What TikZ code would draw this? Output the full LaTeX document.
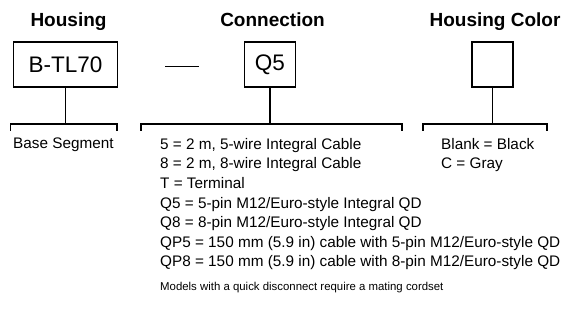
\documentclass[tikz,border=0pt]{standalone}
\usepackage{fontspec}
\setmainfont{Liberation Sans}
\usetikzlibrary{positioning,calc}
\tikzset{%
	partbox/.style  = {draw, rectangle, line width=1.6pt, minimum height=45.5pt, inner sep=0pt, font=\fontsize{22.5}{27}\selectfont},
	heading/.style  = {font=\fontsize{19}{22}\selectfont\bfseries, text height=13.6pt, text depth=0pt, inner sep=0pt},
	legend/.style   = {align=left, anchor=north west, inner sep=0pt, font=\fontsize{15.3}{19.6}\selectfont},
	note/.style     = {anchor=base west, inner sep=0pt, font=\fontsize{11.4}{13}\selectfont},
	link/.style     = {line width=1.6pt},
	waypoint/.style = {coordinate},
}

\begin{document}
\begin{tikzpicture}[x=1pt,y=1pt,node distance=45pt]
	\useasboundingbox (0,0) rectangle (563,-320);
	% code boxes
	\node[partbox, minimum width=104pt] (housing) at (65.5,-64.5) {B-TL70};
	\node[partbox, minimum width=51pt] (conn) at (270,-64.5) {Q5};
	\node[partbox, minimum width=41pt] (color) at (492.5,-64.5) {};
	\node[heading, above of=housing, xshift=3pt] (Thousing) {Housing};
	\node[heading, above of=conn, xshift=2.5pt] (Tconn) {Connection};
	\node[heading, above of=color, xshift=2.5pt] (Tcolor) {Housing Color};
	\coordinate (dashL) at (165,-66.7);
	\coordinate (dashR) at (199,-66.7);
	\draw[link] (dashL) -- (dashR);

	\node[waypoint, below of=housing, node distance=59.5pt] (hBr) {};
	\node[waypoint, left of=hBr, node distance=55pt] (hL) {};
	\node[waypoint, right of=hBr, node distance=51.5pt] (hR) {};
	\node[waypoint, below of=conn, node distance=59.5pt] (cBr) {};
	\node[waypoint, left of=cBr, node distance=129pt] (cL) {};
	\node[waypoint, right of=cBr, node distance=132pt] (cR) {};
	\node[waypoint, below of=color, node distance=59.5pt] (kBr) {};
	\node[waypoint, left of=kBr, node distance=69.5pt] (kL) {};
	\node[waypoint, right of=kBr, node distance=54.5pt] (kR) {};

	\draw[link] (housing) -- (hBr);
	\draw[link] (hL) ++(0,-7) -- (hL) -- (hR) -- ++(0,-7);
	\draw[link] (conn) -- (cBr);
	\draw[link] (cL) ++(0,-7) -- (cL) -- (cR) -- ++(0,-7);
	\draw[link] (color) -- (kBr);
	\draw[link] (kL) ++(0,-7) -- (kL) -- (kR) -- ++(0,-7);

	% option lists
	\node[legend] (hList) at (13,-138) {Base Segment};
	\node[legend] (cList) at (160,-138) {5 = 2 m, 5-wire Integral Cable\\
		8 = 2 m, 8-wire Integral Cable\\
		T = Terminal\\
		Q5 = 5-pin M12/Euro-style Integral QD\\
		Q8 = 8-pin M12/Euro-style Integral QD\\
		QP5 = 150 mm (5.9 in) cable with 5-pin M12/Euro-style QD\\
		QP8 = 150 mm (5.9 in) cable with 8-pin M12/Euro-style QD};
	\node[legend] (kList) at (441,-138) {Blank = Black\\C = Gray};
	\node[note] (cNote) at (160,-291) {Models with a quick disconnect require a mating cordset};
\end{tikzpicture}
\end{document}
